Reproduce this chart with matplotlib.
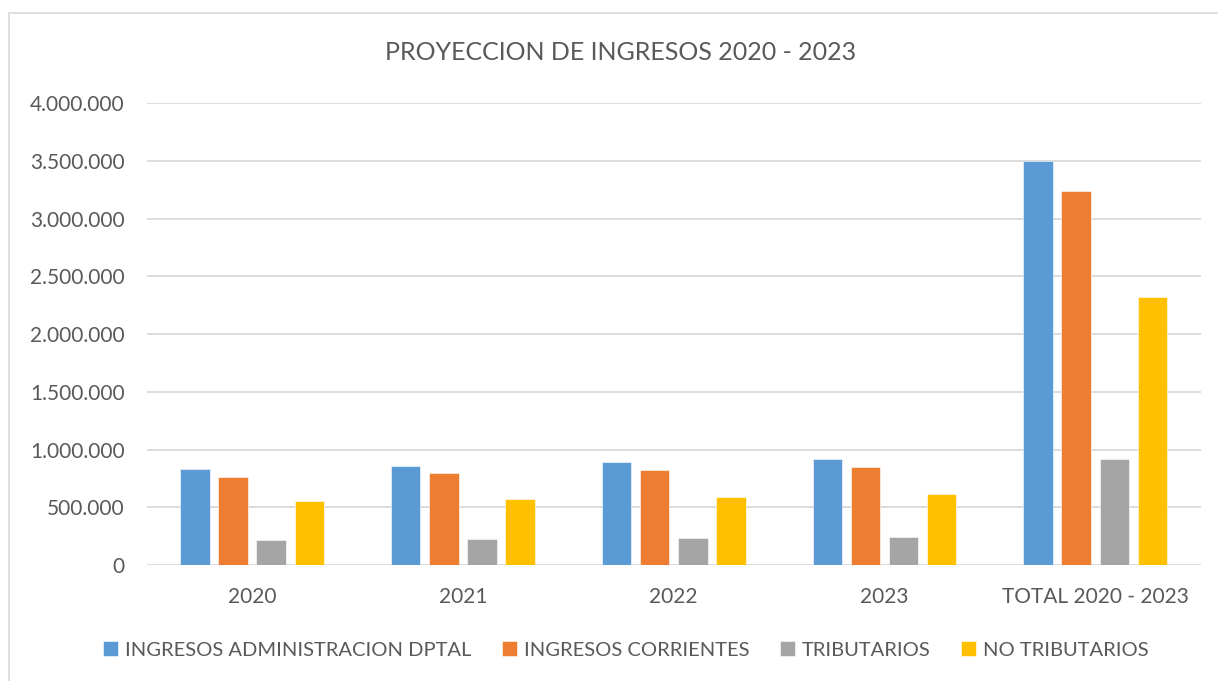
"""Proyeccion de ingresos 2020-2023: barras agrupadas por año y total."""
import matplotlib
matplotlib.use("Agg")
import matplotlib.pyplot as plt
from matplotlib.patches import Rectangle
from matplotlib.ticker import FuncFormatter, MultipleLocator
import numpy as np

plt.rcParams["font.family"] = ["Lato", "DejaVu Sans"]

categorias = ["2020", "2021", "2022", "2023", "TOTAL 2020 - 2023"]
series = ["INGRESOS ADMINISTRACION DPTAL", "INGRESOS CORRIENTES", "TRIBUTARIOS", "NO TRIBUTARIOS"]
admin_dptal = [828000, 860000, 889000, 918000, 3500000]
corrientes = [765000, 797000, 823000, 848000, 3241000]
tributarios = [216000, 225000, 231000, 240000, 915000]
no_tributarios = [551000, 569000, 589000, 612000, 2323000]
colores = ["#5B9BD5", "#ED7D31", "#A5A5A5", "#FFC000"]

gris = "#595959"
fig = plt.figure(figsize=(12.18, 6.81), dpi=100)
ax = fig.add_axes([146.7 / 1218, 1 - 565 / 681, 1054 / 1218, (565 - 103.3) / 681])

x = np.arange(len(categorias))
w, paso = 0.14, 0.181
for i, (nombre, vals, c) in enumerate(zip(series, [admin_dptal, corrientes, tributarios, no_tributarios], colores)):
    ax.bar(x + (i - 1.5) * paso, vals, w, color=c, label=nombre, zorder=3,
           edgecolor="white", linewidth=0.4)

ax.set_xlim(-0.5, len(categorias) - 0.5)
ax.set_ylim(0, 4000000)
ax.yaxis.set_major_locator(MultipleLocator(500000))
ax.yaxis.set_major_formatter(FuncFormatter(lambda v, p: f"{v:,.0f}".replace(",", ".")))
ax.set_xticks(x)
ax.set_xticklabels(categorias)
ax.grid(axis="y", color="#d9d9d9", lw=1.3, zorder=0)
for s in ax.spines.values():
    s.set_visible(False)
ax.tick_params(axis="y", length=0, pad=16, labelsize=15, labelcolor=gris)
ax.tick_params(axis="x", length=0, pad=16, labelsize=15, labelcolor=gris)

fig.text(621 / 1218, 1 - 52 / 681, "PROYECCION DE INGRESOS 2020 - 2023",
         ha="center", va="center", fontsize=18, color=gris)

fig.legend(loc="center", bbox_to_anchor=(626 / 1218, 1 - 650 / 681), ncol=4, frameon=False,
           fontsize=14.5, labelcolor=gris, handlelength=0.75, handleheight=0.75,
           handletextpad=0.35, columnspacing=1.5)

# borde del area del grafico
fig.add_artist(Rectangle((9 / 1218, -0.05), 1.1, 1 - 13 / 681 + 0.05, transform=fig.transFigure,
                         fill=False, edgecolor="#d9d9d9", lw=1.2))

plt.savefig("out.png", dpi=100)
